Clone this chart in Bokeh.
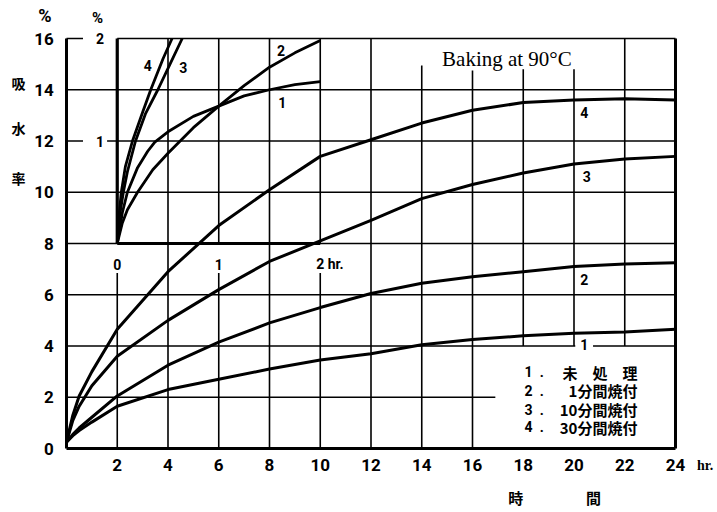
from bokeh.plotting import figure
from bokeh.models import Range1d, Label
from bokeh.embed import file_html
from bokeh.resources import INLINE
from bokeh.core.properties import value

# ---------------- data ----------------
# main chart: time (hr) vs water absorption (%)
hours = [0, 0.25, 0.5, 1, 2, 4, 6, 8, 10, 12, 14, 16, 18, 20, 22, 24]
untreated = [0.25, 0.5, 0.7, 1.03, 1.65, 2.3, 2.7, 3.1, 3.45, 3.7, 4.05, 4.25, 4.4, 4.5, 4.55, 4.65]
baked_1min = [0.25, 0.55, 0.8, 1.22, 2.05, 3.25, 4.15, 4.9, 5.5, 6.05, 6.45, 6.7, 6.9, 7.1, 7.2, 7.25]
baked_10min = [0.25, 1.1, 1.65, 2.45, 3.6, 5.0, 6.2, 7.3, 8.1, 8.9, 9.75, 10.3, 10.75, 11.1, 11.3, 11.4]
baked_30min = [0.25, 1.3, 2.05, 3.0, 4.65, 6.9, 8.7, 10.1, 11.4, 12.05, 12.7, 13.2, 13.5, 13.6, 13.65, 13.6]

# inset: first 2 hours (hr) vs absorption (%)
inset_t_1 = [0, 0.05, 0.1, 0.2, 0.3, 0.37, 0.5, 0.75, 1.0, 1.25, 1.5, 1.75, 2.0]
inset_y_1 = [0, 0.3, 0.5, 0.74, 0.9, 0.99, 1.09, 1.24, 1.34, 1.44, 1.5, 1.55, 1.58]
inset_t_2 = [0, 0.05, 0.1, 0.2, 0.35, 0.5, 0.75, 1.0, 1.25, 1.5, 1.75, 2.0]
inset_y_2 = [0, 0.2, 0.33, 0.5, 0.72, 0.88, 1.13, 1.34, 1.54, 1.72, 1.86, 1.98]
inset_t_3 = [0, 0.02, 0.06, 0.1, 0.18, 0.28, 0.4, 0.52, 0.64]
inset_y_3 = [0, 0.25, 0.5, 0.7, 1.0, 1.27, 1.5, 1.75, 2.0]
inset_t_4 = [0, 0.02, 0.04, 0.08, 0.15, 0.25, 0.33, 0.45, 0.54]
inset_y_4 = [0, 0.3, 0.5, 0.75, 1.0, 1.28, 1.5, 1.8, 2.0]

x_ticks = [2, 4, 6, 8, 10, 12, 14, 16, 18, 20, 22, 24]
y_ticks = [0, 2, 4, 6, 8, 10, 12, 14, 16]
inset_x_ticks = [0, 1, 2]
inset_x_labels = ["0", "1", "2 hr."]
inset_y_ticks = [1, 2]
legend_numbers = ["1\u2002.", "2\u2002.", "3\u2002.", "4\u2002."]
legend_names = ["未　処　理", "1分間焼付", "10分間焼付", "30分間焼付"]
title_text = "Baking at 90°C"

# ---------------- figure (frame spans whole canvas; chart area is 0-24 h x 0-16 %) ----------------
W, H = 717, 512
PX_LEFT, PX_BOTTOM = 66, 64          # chart origin offset in pixels
SX, SY = 25.375, 25.625              # pixels per unit
x_min, x_max = -PX_LEFT / SX, (W - PX_LEFT) / SX
y_min, y_max = -PX_BOTTOM / SY, (H - PX_BOTTOM) / SY

p = figure(width=W, height=H, x_range=Range1d(x_min, x_max), y_range=Range1d(y_min, y_max),
           output_backend="svg", toolbar_location=None,
           x_axis_location=None, y_axis_location=None, min_border=0)
# inset coordinate system: 0-2 hr on main 2-10, 0-2 % on main 8-16
p.extra_x_ranges = {"inset": Range1d((x_min - 2) / 4, (x_max - 2) / 4)}
p.extra_y_ranges = {"inset": Range1d((y_min - 8) / 4, (y_max - 8) / 4)}
p.outline_line_color = None
p.grid.visible = False
p.background_fill_color = "white"
p.border_fill_color = "white"

NUM_FONT = "Roboto"
CJK = "Noto Sans CJK JP"

# ---------------- grid ----------------
h_lines = [(0, 24, 14), (0, 24, 10), (0, 0.65, 12), (1.6, 24, 12), (0, 0.65, 16), (2, 24, 16),
           (0, 24, 8), (0, 24, 6), (0, 20.05, 4), (20.75, 24, 4), (0, 16.9, 2)]
v_lines = [(2, 0, 6.85), (4, 0, 16), (6, 0, 6.85), (6, 8, 16), (8, 0, 16), (10, 0, 6.85), (10, 8, 16),
           (12, 0, 16), (14, 0, 14.95), (16, 0, 14.75), (18, 4, 14.8), (20, 4, 14.8), (22, 4, 16)]
p.segment(x0=[a for a, b, c in h_lines], x1=[b for a, b, c in h_lines],
          y0=[c for a, b, c in h_lines], y1=[c for a, b, c in h_lines],
          line_color="black", line_width=1.6)
p.segment(x0=[a for a, b, c in v_lines], x1=[a for a, b, c in v_lines],
          y0=[b for a, b, c in v_lines], y1=[c for a, b, c in v_lines],
          line_color="black", line_width=1.6)
# frame & inset axes
p.segment(x0=[0, 0, 24], y0=[0, 0, 0], x1=[24, 0, 24], y1=[0, 16, 16], line_color="black", line_width=3)
p.segment(x0=[2, 2], y0=[8, 8], x1=[10, 2], y1=[8, 16], line_color="black", line_width=3.2)

# ---------------- tick labels ----------------
p.text(x=x_ticks, y=[-0.66] * len(x_ticks), text=[str(t) for t in x_ticks],
       text_font=value(NUM_FONT), text_font_style="bold", text_font_size=value("17px"),
       text_align="center", text_baseline="middle", text_color="black")
p.text(x=[-0.5] * len(y_ticks), y=y_ticks, text=[str(t) for t in y_ticks],
       text_font=value(NUM_FONT), text_font_style="bold", text_font_size=value("17px"),
       text_align="right", text_baseline="middle", text_color="black")
p.text(x=inset_x_ticks[:2], y=[-0.2] * 2, text=inset_x_labels[:2],
       x_range_name="inset", y_range_name="inset",
       text_font=value(NUM_FONT), text_font_style="bold", text_font_size=value("14px"),
       text_align="center", text_baseline="middle", text_color="black")
p.text(x=[inset_x_ticks[2] - 0.04], y=[-0.2], text=[inset_x_labels[2]],
       x_range_name="inset", y_range_name="inset",
       text_font=value(NUM_FONT), text_font_style="bold", text_font_size=value("14px"),
       text_align="left", text_baseline="middle", text_color="black")
p.text(x=[-0.17] * len(inset_y_ticks), y=inset_y_ticks, text=[str(t) for t in inset_y_ticks],
       x_range_name="inset", y_range_name="inset",
       text_font=value(NUM_FONT), text_font_style="bold", text_font_size=value("14px"),
       text_align="center", text_baseline="middle", text_color="black")

# ---------------- curves ----------------
for ys in (untreated, baked_1min, baked_10min, baked_30min):
    p.line(hours, ys, line_color="black", line_width=3, line_join="round")
for ts, ys in ((inset_t_1, inset_y_1), (inset_t_2, inset_y_2), (inset_t_3, inset_y_3), (inset_t_4, inset_y_4)):
    p.line(ts, ys, x_range_name="inset", y_range_name="inset",
           line_color="black", line_width=2.8, line_join="round")

# ---------------- other texts ----------------
def lab(x, y, text, size="14px", font=NUM_FONT, style="bold", align="center", baseline="middle", **kw):
    p.add_layout(Label(x=x, y=y, text=text, text_font=font, text_font_size=size,
                       text_font_style=style, text_align=align, text_baseline=baseline,
                       text_color="black", **kw))

# curve labels, main
lab(20.4, 13.1, "4"); lab(20.5, 10.6, "3"); lab(20.4, 6.6, "2"); lab(20.4, 4.05, "1")
# curve labels, inset
lab(3.2, 14.95, "4"); lab(4.6, 14.85, "3"); lab(8.45, 15.55, "2"); lab(8.5, 13.5, "1")

# percent signs
lab(-0.85, 16.9, "%", size="18px")
lab(1.22, 16.8, "%", size="15px")
# y label
for yy, ch in ((14.28, "吸"), (12.49, "水"), (10.54, "率")):
    lab(-1.89, yy, ch, size="14px", font=CJK)
# x label
lab(24.85, -0.66, "hr.", size="14px", font="Liberation Serif", align="left")
lab(17.7, -1.91, "時", size="15px", font=CJK)
lab(20.77, -1.91, "間", size="15px", font=CJK)

# title
lab(14.8, 15.2, title_text, size="21px", font="Liberation Serif", style="normal", align="left")

# legend text
legend_y = [2.97, 2.26, 1.52, 0.82]
for yy, num, name in zip(legend_y, legend_numbers, legend_names):
    lab(18.05, yy, num, size="14px", align="left")
    lab(22.5, yy, name, size="15px", font=CJK, align="right")

open("out.html", "w").write(file_html(p, INLINE))
